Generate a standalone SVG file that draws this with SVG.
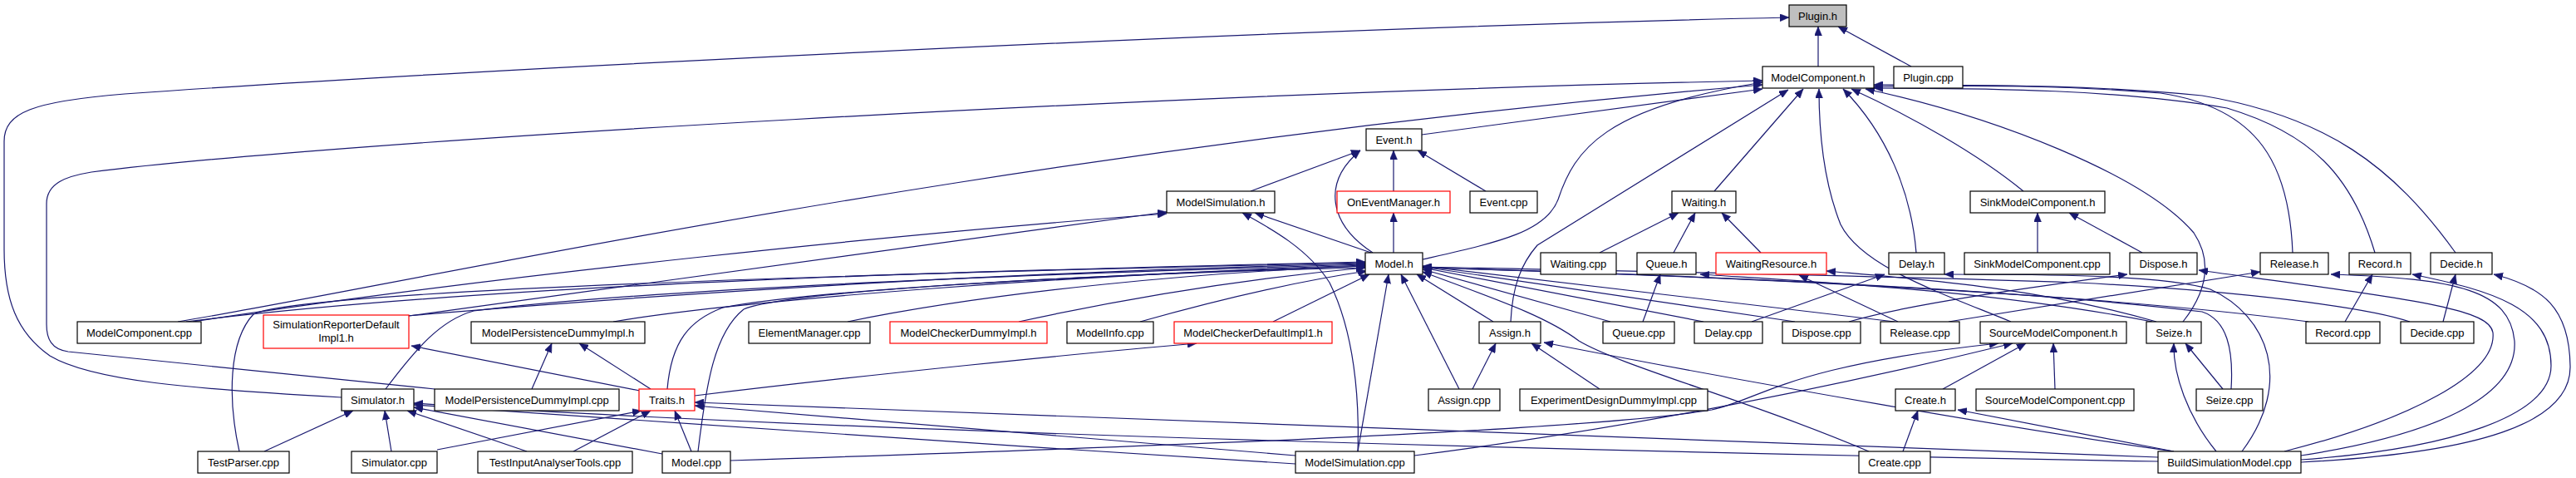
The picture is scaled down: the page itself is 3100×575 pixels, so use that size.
<svg xmlns="http://www.w3.org/2000/svg" width="3100" height="575" viewBox="0 0 3100 575">
<defs>
<marker id="ah" viewBox="0 0 11 9" refX="11" refY="4.5" markerWidth="11" markerHeight="9" markerUnits="userSpaceOnUse" orient="auto">
<path d="M0,0 L11,4.5 L0,9 z" fill="#191970" stroke="#191970" stroke-width="0.5"/>
</marker>
<style>
.e path{fill:none;stroke:#191970;stroke-width:1.2;marker-end:url(#ah)}
.n rect{fill:#fff;stroke:#000;stroke-width:1.2}
.n.r rect{stroke:#ff0000}
.n.g rect{fill:#bfbfbf}
.n text{font-family:"Liberation Sans",Arial,sans-serif;font-size:13px;fill:#000;text-anchor:middle}
</style>
</defs>
<rect width="3100" height="575" fill="#fff"/>
<g id="connectors" class="e">
<path d="M2188,80 L2188,32"/>
<path d="M2300,80 L2212,32"/>
<path d="M411,478 C230,468 110,458 60,428 C20,400 5,360 5,300 L5,170 C5,135 40,122 150,113 C500,88 1500,35 2153,21"/>
<path d="M523,468 L82,423 C62,420 56,408 56,390 L56,245 C56,220 80,212 110,207 C400,170 1400,112 2121,97"/>
<path d="M1711,162 L2121,107"/>
<path d="M1712,312 C1800,292 1860,280 1875,240 C1895,180 1930,130 2121,99"/>
<path d="M214,387 C500,340 1200,180 2121,102"/>
<path d="M1818,387 C1820,345 1830,318 1850,295 L2152,108"/>
<path d="M2063,230 L2170,107"/>
<path d="M2420,387 C2330,350 2240,320 2215,270 C2195,220 2189,160 2189,107"/>
<path d="M2306,304 C2300,230 2270,160 2218,107"/>
<path d="M2435,230 C2380,185 2300,140 2228,107"/>
<path d="M2627,387 C2660,345 2660,310 2640,280 C2580,210 2400,140 2245,107"/>
<path d="M2759,304 C2755,200 2720,130 2600,112 C2450,100 2350,104 2255,104"/>
<path d="M2858,304 C2830,210 2780,160 2680,130 C2550,108 2400,106 2255,106"/>
<path d="M2955,304 C2880,200 2800,140 2650,115 C2500,100 2350,103 2255,102"/>
<path d="M1505,230 L1637,181"/>
<path d="M1652,304 C1600,270 1590,220 1637,181"/>
<path d="M1677,230 L1677,181"/>
<path d="M1788,230 L1706,181"/>
<path d="M1677,304 L1677,256"/>
<path d="M1650,304 L1510,256"/>
<path d="M492,380 L1404,255"/>
<path d="M1634,543 C1636,480 1630,400 1600,340 C1575,300 1530,275 1495,256"/>
<path d="M1925,304 L2020,256"/>
<path d="M2014,304 L2040,256"/>
<path d="M2119,304 L2072,256"/>
<path d="M2452,304 L2452,256"/>
<path d="M2578,304 L2490,256"/>
<path d="M1977,387 L1998,330"/>
<path d="M2590,387 C2400,350 2200,340 2046,330"/>
<path d="M2284,387 L2165,331"/>
<path d="M2595,387 C2450,345 2300,335 2198,326"/>
<path d="M2108,387 L2268,330"/>
<path d="M2698,543 C2760,460 2730,380 2660,348 C2600,330 2450,330 2340,330"/>
<path d="M2225,387 C2300,365 2450,345 2560,330"/>
<path d="M2749,543 C2900,505 3005,450 3000,400 C2995,370 2900,360 2646,325"/>
<path d="M2345,387 L2720,327"/>
<path d="M2769,548 C2950,520 3030,470 3026,410 C3020,350 2960,335 2805,330"/>
<path d="M2822,387 L2855,330"/>
<path d="M2769,553 C2950,540 3070,500 3070,440 C3070,370 3000,350 2903,330"/>
<path d="M2940,387 L2955,330"/>
<path d="M2769,556 C2980,545 3095,510 3093,440 C3092,370 3060,345 3001,330"/>
<path d="M640,468 L664,413"/>
<path d="M783,468 L697,413"/>
<path d="M770,470 L495,416"/>
<path d="M836,476 C1050,450 1300,425 1440,413"/>
<path d="M803,468 C808,410 830,385 870,370 C1000,345 1400,328 1643,320"/>
<path d="M840,543 C850,460 860,400 895,372 C950,350 1300,330 1643,322"/>
<path d="M832,543 L812,494"/>
<path d="M526,541 L772,494"/>
<path d="M690,543 L783,494"/>
<path d="M1559,548 L836,488"/>
<path d="M2597,550 C2300,540 1800,515 836,484"/>
<path d="M318,543 L425,494"/>
<path d="M471,543 L463,494"/>
<path d="M634,543 L490,494"/>
<path d="M797,546 L498,490"/>
<path d="M1559,558 C1200,535 800,510 498,487"/>
<path d="M2597,555 C2000,545 1000,520 498,485"/>
<path d="M464,468 C500,420 530,385 570,374 C800,345 1300,328 1643,318"/>
<path d="M288,543 C274,480 275,410 305,378 C360,350 1000,330 1643,316"/>
<path d="M224,387 C600,340 1200,325 1643,315"/>
<path d="M232,387 C600,330 1100,280 1404,257"/>
<path d="M490,380 C900,345 1300,325 1643,317"/>
<path d="M738,387 C900,360 1300,330 1643,319"/>
<path d="M1020,387 C1200,350 1450,327 1643,320"/>
<path d="M1226,387 C1350,360 1500,335 1643,322"/>
<path d="M1372,387 C1450,365 1550,340 1645,326"/>
<path d="M1532,387 L1648,330"/>
<path d="M1634,543 L1671,330"/>
<path d="M1756,468 L1686,330"/>
<path d="M1797,387 L1705,330"/>
<path d="M1938,387 L1712,324"/>
<path d="M2050,387 L1712,322"/>
<path d="M2160,387 L1712,321"/>
<path d="M2280,387 L1712,320"/>
<path d="M2249,543 C2100,480 1950,440 1900,410 C1860,380 1800,360 1712,327"/>
<path d="M2685,468 C2688,420 2680,385 2650,375 C2400,345 2000,330 1712,322"/>
<path d="M2778,387 C2500,350 2000,330 1712,322"/>
<path d="M2900,387 C2850,370 2700,350 2500,340 C2200,330 1900,325 1712,321"/>
<path d="M1772,468 L1800,413"/>
<path d="M1925,468 L1843,413"/>
<path d="M2616,543 C2450,520 2100,460 1858,412"/>
<path d="M2473,468 L2471,413"/>
<path d="M2338,468 L2438,413"/>
<path d="M879,554 C1300,540 1900,520 2060,493 C2120,480 2150,440 2405,413"/>
<path d="M1702,548 C2000,510 2250,455 2422,413"/>
<path d="M2616,543 L2356,493"/>
<path d="M2290,543 L2308,494"/>
<path d="M2667,543 C2632,500 2615,450 2616,413"/>
<path d="M2675,468 L2630,413"/>
</g>
<g id="plugin_h" class="n g"><rect x="2153" y="6" width="69" height="26"/><text x="2187.5" y="23.5">Plugin.h</text></g>
<g id="modelcomponent_h" class="n"><rect x="2121" y="80" width="134" height="26"/><text x="2188" y="97.5">ModelComponent.h</text></g>
<g id="plugin_cpp" class="n"><rect x="2279" y="80" width="83" height="26"/><text x="2320.5" y="97.5">Plugin.cpp</text></g>
<g id="event_h" class="n"><rect x="1644" y="155" width="67" height="26"/><text x="1677.5" y="172.5">Event.h</text></g>
<g id="modelsimulation_h" class="n"><rect x="1404" y="230" width="130" height="26"/><text x="1469" y="247.5">ModelSimulation.h</text></g>
<g id="oneventmanager_h" class="n r"><rect x="1609" y="230" width="136" height="26"/><text x="1677" y="247.5">OnEventManager.h</text></g>
<g id="event_cpp" class="n"><rect x="1769" y="230" width="81" height="26"/><text x="1809.5" y="247.5">Event.cpp</text></g>
<g id="waiting_h" class="n"><rect x="2012" y="230" width="77" height="26"/><text x="2050.5" y="247.5">Waiting.h</text></g>
<g id="sinkmodelcomponent_h" class="n"><rect x="2371" y="230" width="162" height="26"/><text x="2452" y="247.5">SinkModelComponent.h</text></g>
<g id="model_h" class="n"><rect x="1643" y="304" width="69" height="26"/><text x="1677.5" y="321.5">Model.h</text></g>
<g id="waiting_cpp" class="n"><rect x="1854" y="304" width="91" height="26"/><text x="1899.5" y="321.5">Waiting.cpp</text></g>
<g id="queue_h" class="n"><rect x="1970" y="304" width="71" height="26"/><text x="2005.5" y="321.5">Queue.h</text></g>
<g id="waitingresource_h" class="n r"><rect x="2065" y="304" width="133" height="26"/><text x="2131.5" y="321.5">WaitingResource.h</text></g>
<g id="delay_h" class="n"><rect x="2273" y="304" width="67" height="26"/><text x="2306.5" y="321.5">Delay.h</text></g>
<g id="sinkmodelcomponent_cpp" class="n"><rect x="2364" y="304" width="175" height="26"/><text x="2451.5" y="321.5">SinkModelComponent.cpp</text></g>
<g id="dispose_h" class="n"><rect x="2563" y="304" width="81" height="26"/><text x="2603.5" y="321.5">Dispose.h</text></g>
<g id="release_h" class="n"><rect x="2720" y="304" width="82" height="26"/><text x="2761" y="321.5">Release.h</text></g>
<g id="record_h" class="n"><rect x="2827" y="304" width="74" height="26"/><text x="2864" y="321.5">Record.h</text></g>
<g id="decide_h" class="n"><rect x="2925" y="304" width="74" height="26"/><text x="2962" y="321.5">Decide.h</text></g>
<g id="modelcomponent_cpp" class="n"><rect x="93" y="387" width="149" height="26"/><text x="167.5" y="404.5">ModelComponent.cpp</text></g>
<g id="simulationreporterdefaultimpl1_h" class="n r"><rect x="317" y="379" width="175" height="40"/><text x="404.5" y="394.5">SimulationReporterDefault</text><text x="404.5" y="410.5">Impl1.h</text></g>
<g id="modelpersistencedummyimpl_h" class="n"><rect x="567" y="387" width="209" height="26"/><text x="671.5" y="404.5">ModelPersistenceDummyImpl.h</text></g>
<g id="elementmanager_cpp" class="n"><rect x="901" y="387" width="146" height="26"/><text x="974" y="404.5">ElementManager.cpp</text></g>
<g id="modelcheckerdummyimpl_h" class="n r"><rect x="1071" y="387" width="189" height="26"/><text x="1165.5" y="404.5">ModelCheckerDummyImpl.h</text></g>
<g id="modelinfo_cpp" class="n"><rect x="1284" y="387" width="104" height="26"/><text x="1336" y="404.5">ModelInfo.cpp</text></g>
<g id="modelcheckerdefaultimpl1_h" class="n r"><rect x="1413" y="387" width="190" height="26"/><text x="1508" y="404.5">ModelCheckerDefaultImpl1.h</text></g>
<g id="assign_h" class="n"><rect x="1780" y="387" width="74" height="26"/><text x="1817" y="404.5">Assign.h</text></g>
<g id="queue_cpp" class="n"><rect x="1929" y="387" width="86" height="26"/><text x="1972" y="404.5">Queue.cpp</text></g>
<g id="delay_cpp" class="n"><rect x="2039" y="387" width="82" height="26"/><text x="2080" y="404.5">Delay.cpp</text></g>
<g id="dispose_cpp" class="n"><rect x="2145" y="387" width="94" height="26"/><text x="2192" y="404.5">Dispose.cpp</text></g>
<g id="release_cpp" class="n"><rect x="2263" y="387" width="95" height="26"/><text x="2310.5" y="404.5">Release.cpp</text></g>
<g id="sourcemodelcomponent_h" class="n"><rect x="2383" y="387" width="176" height="26"/><text x="2471" y="404.5">SourceModelComponent.h</text></g>
<g id="seize_h" class="n"><rect x="2583" y="387" width="66" height="26"/><text x="2616" y="404.5">Seize.h</text></g>
<g id="record_cpp" class="n"><rect x="2775" y="387" width="89" height="26"/><text x="2819.5" y="404.5">Record.cpp</text></g>
<g id="decide_cpp" class="n"><rect x="2889" y="387" width="88" height="26"/><text x="2933" y="404.5">Decide.cpp</text></g>
<g id="simulator_h" class="n"><rect x="411" y="468" width="87" height="26"/><text x="454.5" y="485.5">Simulator.h</text></g>
<g id="modelpersistencedummyimpl_cpp" class="n"><rect x="523" y="468" width="222" height="26"/><text x="634" y="485.5">ModelPersistenceDummyImpl.cpp</text></g>
<g id="traits_h" class="n r"><rect x="769" y="468" width="67" height="26"/><text x="802.5" y="485.5">Traits.h</text></g>
<g id="assign_cpp" class="n"><rect x="1719" y="468" width="86" height="26"/><text x="1762" y="485.5">Assign.cpp</text></g>
<g id="experimentdesigndummyimpl_cpp" class="n"><rect x="1829" y="468" width="226" height="26"/><text x="1942" y="485.5">ExperimentDesignDummyImpl.cpp</text></g>
<g id="create_h" class="n"><rect x="2281" y="468" width="72" height="26"/><text x="2317" y="485.5">Create.h</text></g>
<g id="sourcemodelcomponent_cpp" class="n"><rect x="2378" y="468" width="190" height="26"/><text x="2473" y="485.5">SourceModelComponent.cpp</text></g>
<g id="seize_cpp" class="n"><rect x="2643" y="468" width="80" height="26"/><text x="2683" y="485.5">Seize.cpp</text></g>
<g id="testparser_cpp" class="n"><rect x="238" y="543" width="110" height="26"/><text x="293" y="560.5">TestParser.cpp</text></g>
<g id="simulator_cpp" class="n"><rect x="423" y="543" width="103" height="26"/><text x="474.5" y="560.5">Simulator.cpp</text></g>
<g id="testinputanalysertools_cpp" class="n"><rect x="575" y="543" width="186" height="26"/><text x="668" y="560.5">TestInputAnalyserTools.cpp</text></g>
<g id="model_cpp" class="n"><rect x="797" y="543" width="82" height="26"/><text x="838" y="560.5">Model.cpp</text></g>
<g id="modelsimulation_cpp" class="n"><rect x="1559" y="543" width="143" height="26"/><text x="1630.5" y="560.5">ModelSimulation.cpp</text></g>
<g id="create_cpp" class="n"><rect x="2237" y="543" width="86" height="26"/><text x="2280" y="560.5">Create.cpp</text></g>
<g id="buildsimulationmodel_cpp" class="n"><rect x="2597" y="543" width="172" height="26"/><text x="2683" y="560.5">BuildSimulationModel.cpp</text></g>
</svg>
